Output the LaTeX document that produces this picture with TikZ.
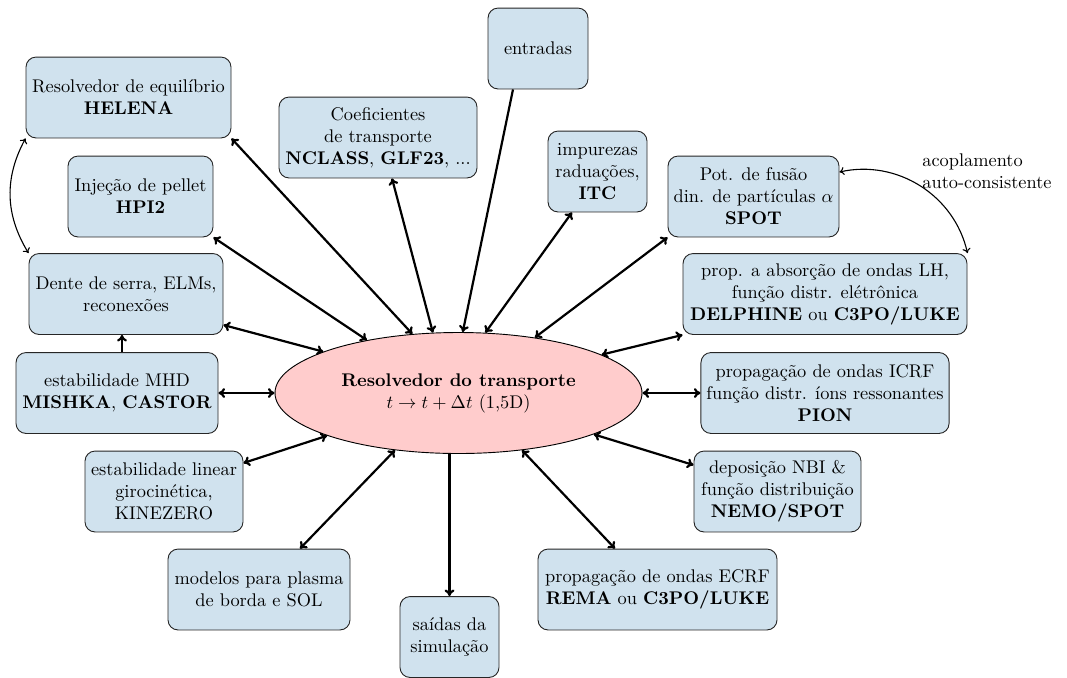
\documentclass[tikz,border=0pt]{standalone}
\usetikzlibrary{shapes.geometric,calc,arrows.meta}
\definecolor{boxblue}{RGB}{208,226,238}
\definecolor{ellpink}{RGB}{255,204,204}
\begin{document}
\begin{tikzpicture}[x=0.545pt,y=-0.545pt,
  box/.style={draw=black!85, line width=0.5pt, fill=boxblue, rounded corners=5.5pt,
    align=center, minimum height=44.1pt, inner xsep=3pt, inner ysep=2pt},
  wd/.style={minimum width=#1*0.545pt},
  tip/.tip={To[length=3.6pt,width=5.4pt]},
  link/.style={very thick, tip-tip},
  single/.style={very thick, -tip},
  thinlink/.style={semithick, {To[length=2.6pt,width=4.4pt]}-{To[length=2.6pt,width=4.4pt]}}]
\useasboundingbox (0,0) rectangle (1067,677);

\node[box, wd=100] (entr) at (538,48.5) {entradas};
\node[box, wd=205] (hel) at (128.5,97.5) {Resolvedor de equilíbrio\\\textbf{HELENA}};
\node[box, wd=198] (coef) at (378,137.5) {Coeficientes\\de transporte\\\textbf{NCLASS}, \textbf{GLF23}, ...};
\node[box, wd=99] (itc) at (597.5,171.5) {impurezas\\raduações,\\\textbf{ITC}};
\node[box, wd=171] (spot) at (753.5,196.5) {Pot. de fusão\\din. de partículas $\alpha$\\\textbf{SPOT}};
\node[box, wd=284] (lh) at (825,294) {prop. a absorção de ondas LH,\\função distr. elétrônica\\\textbf{DELPHINE} ou \textbf{C3PO/LUKE}};
\node[box, wd=145] (hpi) at (140.5,196.5) {Injeção de pellet\\\textbf{HPI2}};
\node[box, wd=194] (dente) at (126,294) {Dente de serra, ELMs,\\reconexões};
\node[box, wd=202] (mhd) at (117,393) {estabilidade MHD\\\textbf{MISHKA}, \textbf{CASTOR}};
\node[ellipse, draw, line width=0.5pt, fill=ellpink, minimum width=367*0.545pt,
  minimum height=121*0.545pt, align=center, inner sep=1pt] (ell) at (458.5,393)
  {\textbf{Resolvedor do transporte}\\$t\to t+\Delta t$ (1,5D)};
\node[box, wd=248] (pion) at (825,393) {propagação de ondas ICRF\\função distr. íons ressonantes\\\textbf{PION}};
\node[box, wd=158] (lin) at (164,491.5) {estabilidade linear\\girocinética,\\KINEZERO};
\node[box, wd=167] (nbi) at (777.5,491.5) {deposição NBI \&\\função distribuição\\\textbf{NEMO/SPOT}};
\node[box, wd=182] (mod) at (259,589.5) {modelos para plasma\\de borda e SOL};
\node[box, wd=239] (ecrf) at (657.5,589.5) {propagação de ondas ECRF\\\textbf{REMA} ou \textbf{C3PO/LUKE}};
\node[box, wd=99] (said) at (449.5,637) {saídas da\\simulação};
\node[align=left, anchor=west, inner sep=0pt] (acop) at (922,171) {acoplamento\\auto-consistente};

\draw[link] (hel.south east) -- (ell.128);
\draw[link] ($(coef.south)+(14,0)$) -- (ell.113);
\draw[single] ($(entr.south)+(-25,0)$) -- (ell.86);
\draw[link] ($(itc.south)+(-25.5,0)$) -- (ell.66);
\draw[link] (spot.south west) -- (ell.36);
\draw[link] (lh.south west) -- (ell.15);
\draw[link] (hpi.south east) -- (ell.150);
\draw[link] ($(dente.east)+(0,31)$) -- (ell.163);
\draw[single] ($(mhd.north)+(5,0)$) coordinate (m1) -- (m1 |- dente.south);
\draw[link] (mhd) -- (ell);
\draw[link] (ell) -- (pion);
\draw[link] ($(lin.east)+(0,-28.5)$) -- (ell.198);
\draw[link] ($(nbi.west)+(0,-26.5)$) -- (ell.343);
\draw[link] ($(mod.north)+(41,0)$) -- (ell.222);
\draw[single] (said.north |- ell.south) -- (said.north);
\draw[link] ($(ecrf.north)+(-42.5,0)$) -- (ell.318);

\draw[thinlink] (hel.south west) to[bend right=30] (dente.north west);
\draw[thinlink] ($(spot.east)+(0,-24.5)$) to[bend left=45] (lh.north east);
\end{tikzpicture}
\end{document}
